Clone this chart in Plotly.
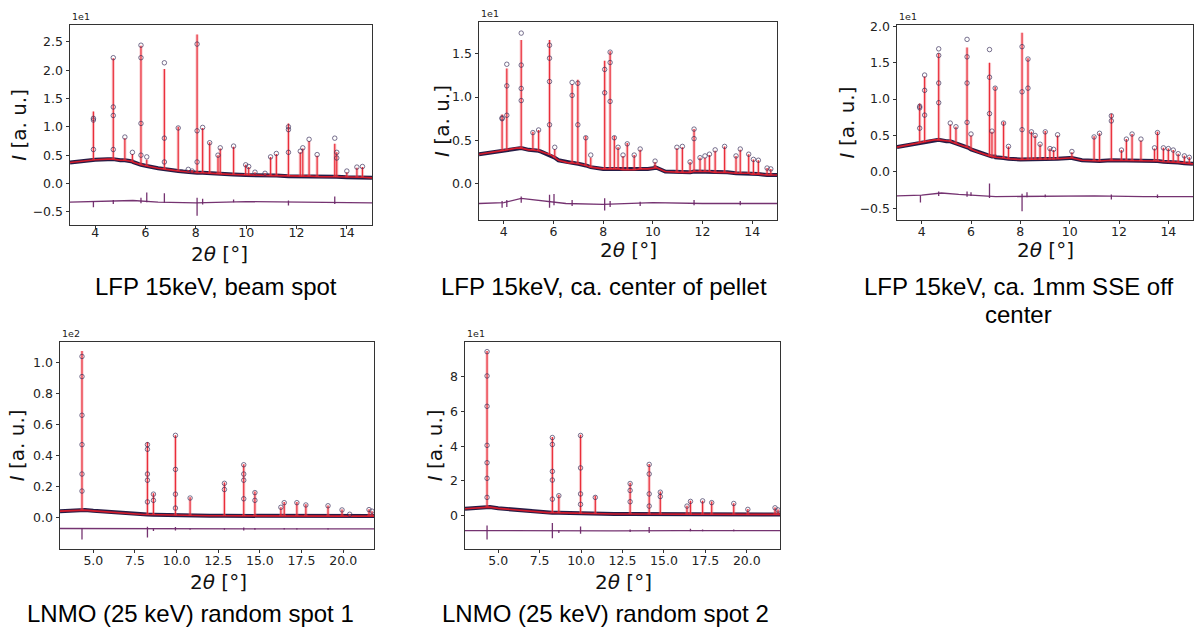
import plotly.graph_objects as go

W, H = 1198, 628

# ================= DATA =================
# Panel 1: LFP 15keV, beam spot  (intensity in units of 1e1)
p1_bg_x = [3.0, 3.5, 4.0, 4.5, 5.0, 5.5, 6.0, 6.5, 7.0, 7.5, 8.0, 9.0, 10.0, 11.0, 12.0, 13.0, 14.0, 15.0]
p1_bg_y = [0.37, 0.40, 0.42, 0.43, 0.41, 0.38, 0.32, 0.27, 0.24, 0.21, 0.19, 0.17, 0.15, 0.14, 0.13, 0.12, 0.11, 0.10]
p1_pk_x = [3.93, 4.72, 5.18, 5.48, 5.82, 6.05, 6.75, 7.30, 7.70, 7.85, 8.05, 8.27, 8.55, 8.88, 8.97, 9.50,
           9.98, 10.10, 10.35, 10.75, 10.97, 11.20, 11.68, 12.15, 12.25, 12.50, 12.82, 13.52, 13.60, 14.00, 14.40, 14.62]
p1_pk_base = [0.42, 0.43, 0.41, 0.39, 0.33, 0.31, 0.25, 0.22, 0.20, 0.20, 0.19, 0.19, 0.18, 0.17, 0.17, 0.16,
              0.15, 0.15, 0.15, 0.14, 0.14, 0.14, 0.13, 0.13, 0.13, 0.13, 0.12, 0.12, 0.12, 0.11, 0.11, 0.11]
p1_pk_top = [1.27, 2.21, 0.80, 0.52, 2.43, 0.42, 2.02, 1.00, 0.24, 0.24, 2.63, 0.98, 0.73, 0.50, 0.62, 0.65,
             0.33, 0.29, 0.20, 0.18, 0.47, 0.52, 1.06, 0.55, 0.62, 0.75, 0.49, 0.70, 0.55, 0.20, 0.28, 0.29]
p1_pk_obs = [1.15, 2.22, 0.82, 0.55, 2.44, 0.47, 2.13, 0.98, 0.25, 0.22, 2.46, 0.99, 0.72, 0.50, 0.63, 0.66,
             0.33, 0.30, 0.20, 0.18, 0.47, 0.53, 1.00, 0.57, 0.63, 0.78, 0.51, 0.80, 0.55, 0.22, 0.29, 0.30]
p1_side_x = [3.93, 3.93, 4.72, 4.72, 4.72, 5.82, 5.82, 5.82, 6.75, 6.75, 8.05, 8.05, 11.68, 11.68, 13.60]
p1_side_y = [1.12, 0.60, 1.35, 1.20, 0.60, 2.22, 1.06, 0.50, 0.80, 0.38, 0.93, 0.38, 0.95, 0.55, 0.45]
p1_diff_x = [3.0, 4.5, 5.5, 6.5, 8.0, 10.0, 12.0, 15.0]
p1_diff_y = [-0.33, -0.31, -0.30, -0.33, -0.34, -0.32, -0.33, -0.34]
p1_sp_x = [3.93, 4.72, 5.82, 6.05, 6.75, 8.05, 8.27, 9.50, 11.68, 13.52]
p1_sp_lo = [-0.42, -0.36, -0.35, -0.33, -0.34, -0.57, -0.37, -0.33, -0.39, -0.36]
p1_sp_hi = [-0.31, -0.29, -0.25, -0.16, -0.17, -0.25, -0.27, -0.28, -0.30, -0.23]

# Panel 2: LFP 15keV, ca. center of pellet  (units of 1e1)
p2_bg_x = [3.0, 3.5, 4.0, 4.5, 5.0, 5.5, 5.9, 6.2, 6.6, 7.0, 7.5, 8.0, 9.0, 9.8, 10.1, 10.5, 11.0, 12.0, 13.0, 14.0, 15.0]
p2_bg_y = [0.34, 0.36, 0.38, 0.41, 0.39, 0.37, 0.33, 0.27, 0.24, 0.23, 0.19, 0.17, 0.16, 0.17, 0.19, 0.14, 0.13, 0.14, 0.13, 0.11, 0.10]
p2_pk_x = [3.93, 4.12, 4.70, 5.17, 5.40, 5.84, 6.05, 6.75, 6.98, 7.30, 7.50, 8.06, 8.28, 8.45, 8.60, 8.80, 8.97, 9.25,
           9.49, 10.09, 10.97, 11.19, 11.50, 11.66, 11.90, 12.10, 12.28, 12.51, 12.89, 13.35, 13.52, 13.86, 14.05,
           14.25, 14.60, 14.75]
p2_pk_base = [0.38, 0.39, 0.41, 0.39, 0.38, 0.33, 0.30, 0.24, 0.23, 0.21, 0.19, 0.17, 0.17, 0.17, 0.17, 0.16, 0.16, 0.16,
              0.17, 0.18, 0.13, 0.13, 0.13, 0.14, 0.14, 0.14, 0.14, 0.13, 0.13, 0.12, 0.12, 0.12, 0.11,
              0.11, 0.10, 0.10]
p2_pk_top = [0.80, 1.33, 1.66, 0.60, 0.62, 1.66, 0.40, 1.15, 1.20, 0.55, 0.30, 1.42, 1.53, 0.55, 0.42, 0.32, 0.47, 0.33,
             0.39, 0.25, 0.41, 0.42, 0.25, 0.63, 0.30, 0.30, 0.33, 0.38, 0.43, 0.32, 0.39, 0.34, 0.28,
             0.27, 0.18, 0.17]
p2_pk_obs = [0.76, 1.38, 1.74, 0.59, 0.62, 1.60, 0.42, 1.17, 1.16, 0.53, 0.33, 1.32, 1.52, 0.53, 0.42, 0.33, 0.46, 0.33,
             0.40, 0.26, 0.42, 0.43, 0.25, 0.63, 0.30, 0.32, 0.34, 0.39, 0.43, 0.32, 0.40, 0.34, 0.28,
             0.27, 0.18, 0.17]
p2_side_x = [3.93, 4.12, 4.12, 4.70, 4.70, 4.70, 5.84, 5.84, 5.84, 6.75, 6.98, 8.06, 8.28, 8.28, 11.66]
p2_side_y = [0.75, 1.13, 0.79, 1.37, 1.10, 0.96, 1.45, 1.18, 0.68, 1.02, 0.68, 1.05, 1.40, 0.95, 0.52]
p2_diff_x = [3.0, 4.0, 4.7, 5.5, 6.5, 8.0, 10.0, 12.0, 15.0]
p2_diff_y = [-0.23, -0.22, -0.17, -0.20, -0.23, -0.24, -0.22, -0.23, -0.23]
p2_sp_x = [3.93, 4.12, 4.70, 5.84, 6.02, 6.75, 8.06, 8.28, 9.49, 11.66, 13.52]
p2_sp_lo = [-0.28, -0.27, -0.22, -0.28, -0.25, -0.26, -0.31, -0.27, -0.26, -0.25, -0.25]
p2_sp_hi = [-0.20, -0.19, -0.15, -0.13, -0.12, -0.19, -0.17, -0.20, -0.21, -0.19, -0.20]

# Panel 3: LFP 15keV, ca. 1mm SSE off center  (units of 1e1)
p3_bg_x = [3.0, 3.5, 4.0, 4.5, 5.0, 5.5, 5.9, 6.3, 6.6, 7.0, 7.5, 8.0, 9.0, 10.0, 10.5, 11.0, 12.0, 13.0, 14.0, 15.0]
p3_bg_y = [0.34, 0.37, 0.40, 0.44, 0.42, 0.38, 0.33, 0.27, 0.23, 0.20, 0.18, 0.17, 0.17, 0.19, 0.16, 0.15, 0.16, 0.15, 0.14, 0.11]
p3_pk_x = [3.92, 4.12, 4.69, 5.16, 5.39, 5.84, 6.00, 6.75, 6.85, 6.98, 7.32, 7.52, 8.07, 8.31, 8.45, 8.60, 8.80, 9.01,
           9.20, 9.35, 9.51, 10.09, 10.99, 11.21, 11.69, 12.10, 12.30, 12.53, 12.89, 13.44, 13.56, 13.80, 14.00,
           14.20, 14.40, 14.65, 14.85]
p3_pk_base = [0.40, 0.41, 0.44, 0.42, 0.39, 0.34, 0.31, 0.22, 0.21, 0.21, 0.19, 0.18, 0.17, 0.17, 0.17, 0.17, 0.17, 0.17,
              0.17, 0.17, 0.18, 0.19, 0.15, 0.15, 0.16, 0.16, 0.16, 0.15, 0.15, 0.15, 0.15, 0.14, 0.14,
              0.14, 0.13, 0.12, 0.12]
p3_pk_top = [0.94, 1.31, 1.63, 0.65, 0.62, 1.71, 0.50, 1.50, 0.55, 1.17, 0.69, 0.35, 1.91, 1.56, 0.55, 0.50, 0.38, 0.56,
             0.32, 0.30, 0.50, 0.27, 0.49, 0.53, 0.80, 0.30, 0.45, 0.52, 0.43, 0.32, 0.55, 0.33, 0.32,
             0.30, 0.25, 0.22, 0.20]
p3_pk_obs = [0.90, 1.33, 1.69, 0.67, 0.62, 1.82, 0.52, 1.68, 0.56, 1.15, 0.67, 0.35, 1.72, 1.55, 0.55, 0.50, 0.38, 0.55,
             0.32, 0.31, 0.51, 0.28, 0.48, 0.53, 0.77, 0.30, 0.45, 0.52, 0.45, 0.33, 0.54, 0.33, 0.32,
             0.30, 0.25, 0.22, 0.20]
p3_side_x = [3.92, 3.92, 4.12, 4.12, 4.69, 4.69, 4.69, 5.84, 5.84, 5.84, 6.75, 6.75, 8.07, 8.07, 8.31, 11.69]
p3_side_y = [0.88, 0.60, 1.12, 0.78, 1.60, 1.22, 0.95, 1.58, 1.22, 0.68, 1.30, 0.80, 1.10, 0.58, 1.15, 0.70]
p3_diff_x = [3.0, 4.0, 4.8, 5.5, 7.0, 9.0, 11.0, 13.0, 15.0]
p3_diff_y = [-0.33, -0.32, -0.29, -0.31, -0.34, -0.33, -0.33, -0.34, -0.34]
p3_sp_x = [3.95, 4.69, 5.84, 6.00, 6.75, 8.07, 8.27, 9.01, 11.69, 13.56]
p3_sp_lo = [-0.42, -0.33, -0.34, -0.33, -0.36, -0.54, -0.35, -0.35, -0.38, -0.36]
p3_sp_hi = [-0.32, -0.27, -0.27, -0.28, -0.16, -0.30, -0.28, -0.31, -0.31, -0.31]

# Panel 4: LNMO (25 keV) random spot 1  (units of 1e2)
p4_bg_x = [3.0, 4.0, 4.5, 5.0, 6.0, 7.0, 8.0, 10.0, 12.0, 15.0, 18.0, 21.85]
p4_bg_y = [0.040, 0.045, 0.047, 0.042, 0.033, 0.024, 0.018, 0.012, 0.010, 0.009, 0.008, 0.008]
p4_pk_x = [4.32, 8.25, 8.61, 9.93, 10.81, 12.87, 14.03, 14.70, 16.26, 16.46, 17.22, 17.76, 19.09, 19.93, 20.39, 21.55, 21.73]
p4_pk_base = [0.047, 0.018, 0.017, 0.013, 0.012, 0.010, 0.009, 0.009, 0.009, 0.009, 0.008, 0.008, 0.008, 0.008, 0.008, 0.008, 0.008]
p4_pk_top = [1.075, 0.487, 0.156, 0.530, 0.130, 0.226, 0.344, 0.167, 0.066, 0.100, 0.100, 0.085, 0.077, 0.050, 0.020, 0.053, 0.040]
p4_pk_obs = [1.040, 0.470, 0.150, 0.530, 0.125, 0.220, 0.340, 0.160, 0.065, 0.095, 0.095, 0.080, 0.075, 0.048, 0.020, 0.050, 0.040]
p4_side_x = [4.32, 4.32, 4.32, 4.32, 4.32, 8.25, 8.25, 8.25, 8.25, 8.61, 9.93, 9.93, 9.93, 12.87, 14.03, 14.03, 14.03, 14.70]
p4_side_y = [0.910, 0.660, 0.470, 0.280, 0.170, 0.440, 0.280, 0.240, 0.100, 0.110, 0.310, 0.150, 0.060, 0.180, 0.280, 0.240, 0.120, 0.110]
p4_diff_x = [3.0, 5.0, 8.0, 12.0, 16.0, 21.85]
p4_diff_y = [-0.072, -0.073, -0.075, -0.075, -0.074, -0.075]
p4_sp_x = [4.32, 8.25, 8.61, 9.93, 10.81, 12.87, 14.03, 14.70, 16.46, 17.22, 19.09]
p4_sp_lo = [-0.143, -0.130, -0.088, -0.085, -0.080, -0.080, -0.085, -0.080, -0.078, -0.078, -0.078]
p4_sp_hi = [-0.068, -0.060, -0.072, -0.062, -0.072, -0.070, -0.066, -0.068, -0.068, -0.070, -0.070]

# Panel 5: LNMO (25 keV) random spot 2  (units of 1e1)
p5_bg_x = [3.0, 4.0, 4.5, 5.0, 6.0, 7.0, 8.0, 10.0, 12.0, 15.0, 18.0, 22.0]
p5_bg_y = [0.40, 0.46, 0.49, 0.42, 0.33, 0.24, 0.17, 0.11, 0.09, 0.07, 0.07, 0.07]
p5_pk_x = [4.33, 8.27, 8.66, 9.97, 10.86, 12.96, 14.11, 14.78, 16.39, 16.60, 17.33, 17.88, 19.21, 20.06, 21.70, 21.88]
p5_pk_base = [0.49, 0.17, 0.16, 0.12, 0.11, 0.09, 0.08, 0.08, 0.07, 0.07, 0.07, 0.07, 0.07, 0.07, 0.07, 0.07]
p5_pk_top = [9.49, 4.53, 1.20, 4.66, 1.14, 1.90, 2.97, 1.39, 0.57, 0.86, 0.86, 0.82, 0.72, 0.38, 0.47, 0.35]
p5_pk_obs = [9.45, 4.50, 1.15, 4.62, 1.05, 1.85, 2.95, 1.35, 0.55, 0.82, 0.85, 0.75, 0.70, 0.36, 0.45, 0.33]
p5_side_x = [4.33, 4.33, 4.33, 4.33, 4.33, 4.33, 8.27, 8.27, 8.27, 8.27, 9.97, 9.97, 9.97, 12.96, 12.96, 14.11, 14.11, 14.11, 14.78]
p5_side_y = [8.05, 6.30, 4.05, 3.05, 2.15, 1.05, 4.10, 2.55, 2.05, 0.95, 2.75, 1.25, 0.65, 1.45, 0.80, 2.40, 1.25, 0.55, 1.10]
p5_diff_x = [3.0, 5.0, 8.0, 12.0, 16.0, 22.0]
p5_diff_y = [-0.86, -0.87, -0.88, -0.88, -0.87, -0.86]
p5_sp_x = [4.33, 8.27, 8.66, 9.97, 12.96, 14.11, 16.60, 17.33, 19.21]
p5_sp_lo = [-1.37, -1.30, -1.00, -1.05, -0.95, -1.00, -0.90, -0.90, -0.90]
p5_sp_hi = [-0.57, -0.42, -0.85, -0.62, -0.80, -0.65, -0.75, -0.80, -0.80]

captions = [["LFP 15keV, beam spot"], ["LFP 15keV, ca. center of pellet"], ["LFP 15keV, ca. 1mm SSE off", "center"],
            ["LNMO (25 keV) random spot 1"], ["LNMO (25 keV) random spot 2"]]
offsets = ["1e1", "1e1", "1e1", "1e2", "1e1"]
x_ticks_lfp = [4, 6, 8, 10, 12, 14]
x_ticks_lnmo = [5.0, 7.5, 10.0, 12.5, 15.0, 17.5, 20.0]
y_ticks = [[-0.5, 0.0, 0.5, 1.0, 1.5, 2.0, 2.5], [0.0, 0.5, 1.0, 1.5], [-0.5, 0.0, 0.5, 1.0, 1.5, 2.0],
           [0.0, 0.2, 0.4, 0.6, 0.8, 1.0], [0, 2, 4, 6, 8]]

# ================= LAYOUT / STYLE =================
panels = [
    dict(bgx=p1_bg_x, bgy=p1_bg_y, px=p1_pk_x, pb=p1_pk_base, pt=p1_pk_top, po=p1_pk_obs, sx=p1_side_x, sy=p1_side_y,
         dx=p1_diff_x, dy=p1_diff_y, spx=p1_sp_x, splo=p1_sp_lo, sphi=p1_sp_hi,
         box=(70, 372, 19, 221), xr=[3, 15], yr=[-0.73, 2.80], xt=x_ticks_lfp, xf="d", yf=".1f",
         cap=(216, [283]), xtitle=(220, 250), ytitle=19, so=-7),
    dict(bgx=p2_bg_x, bgy=p2_bg_y, px=p2_pk_x, pb=p2_pk_base, pt=p2_pk_top, po=p2_pk_obs, sx=p2_side_x, sy=p2_side_y,
         dx=p2_diff_x, dy=p2_diff_y, spx=p2_sp_x, splo=p2_sp_lo, sphi=p2_sp_hi,
         box=(479, 777, 16, 216), xr=[3, 15], yr=[-0.42, 1.87], xt=x_ticks_lfp, xf="d", yf=".1f",
         cap=(604, [283]), xtitle=(628, 246), ytitle=442, so=-3),
    dict(bgx=p3_bg_x, bgy=p3_bg_y, px=p3_pk_x, pb=p3_pk_base, pt=p3_pk_top, po=p3_pk_obs, sx=p3_side_x, sy=p3_side_y,
         dx=p3_diff_x, dy=p3_diff_y, spx=p3_sp_x, splo=p3_sp_lo, sphi=p3_sp_hi,
         box=(897, 1193, 19, 216), xr=[3, 15], yr=[-0.66, 2.02], xt=x_ticks_lfp, xf="d", yf=".1f",
         cap=(1018, [283, 311]), xtitle=(1045, 246), ytitle=847, so=-3),
    dict(bgx=p4_bg_x, bgy=p4_bg_y, px=p4_pk_x, pb=p4_pk_base, pt=p4_pk_top, po=p4_pk_obs, sx=p4_side_x, sy=p4_side_y,
         dx=p4_diff_x, dy=p4_diff_y, spx=p4_sp_x, splo=p4_sp_lo, sphi=p4_sp_hi,
         box=(60, 374, 339, 548), xr=[3, 21.85], yr=[-0.203, 1.135], xt=x_ticks_lnmo, xf=".1f", yf=".1f",
         cap=(190, [613]), xtitle=(218, 582), ytitle=17, so=-3),
    dict(bgx=p5_bg_x, bgy=p5_bg_y, px=p5_pk_x, pb=p5_pk_base, pt=p5_pk_top, po=p5_pk_obs, sx=p5_side_x, sy=p5_side_y,
         dx=p5_diff_x, dy=p5_diff_y, spx=p5_sp_x, splo=p5_sp_lo, sphi=p5_sp_hi,
         box=(465, 780, 339, 548), xr=[3, 22], yr=[-1.91, 10.02], xt=x_ticks_lnmo, xf=".1f", yf="d",
         cap=(605, [613]), xtitle=(623, 582), ytitle=435, so=-3),
]

OBS = "rgba(38,28,70,1)"
RED = "rgba(232,28,40,0.9)"
PINK = "rgba(240,110,120,0.35)"
DIFF = "rgba(110,40,105,0.95)"
TICKFONT = dict(family="DejaVu Sans", size=12.5, color="#222")
TITLEFONT = dict(family="DejaVu Sans", size=20, color="#111")

fig = go.Figure()
annotations = []
layout_axes = {}

for i, p in enumerate(panels):
    n = "" if i == 0 else str(i + 1)
    xa, ya = "x" + n, "y" + n
    # observed dense band (background + peak bases)
    band = sorted(list(zip(p["bgx"], p["bgy"])) + list(zip(p["px"], p["pb"])))
    fig.add_trace(go.Scatter(x=[b[0] for b in band], y=[b[1] for b in band], mode="lines",
                             line=dict(color=OBS, width=4), xaxis=xa, yaxis=ya, showlegend=False))
    # calculated pattern: background line
    fig.add_trace(go.Scatter(x=[b[0] for b in band], y=[b[1] for b in band], mode="lines",
                             line=dict(color=RED, width=1.6), xaxis=xa, yaxis=ya, showlegend=False))
    # calculated peaks (pink halo + red core)
    sx, sy = [], []
    for x, b, t in zip(p["px"], p["pb"], p["pt"]):
        sx += [x, x, None]
        sy += [b, t, None]
    fig.add_trace(go.Scatter(x=sx, y=sy, mode="lines", line=dict(color=PINK, width=3.2),
                             xaxis=xa, yaxis=ya, showlegend=False))
    fig.add_trace(go.Scatter(x=sx, y=sy, mode="lines", line=dict(color=RED, width=1.2),
                             xaxis=xa, yaxis=ya, showlegend=False))
    # observed circles
    fig.add_trace(go.Scatter(x=list(p["px"]) + list(p["sx"]), y=list(p["po"]) + list(p["sy"]), mode="markers",
                             marker=dict(symbol="circle-open", size=4.5, color="rgba(50,40,85,0.65)",
                                         line=dict(width=1)),
                             xaxis=xa, yaxis=ya, showlegend=False))
    # difference curve
    fig.add_trace(go.Scatter(x=p["dx"], y=p["dy"], mode="lines", line=dict(color=DIFF, width=1.3),
                             xaxis=xa, yaxis=ya, showlegend=False))
    dsx, dsy = [], []
    for x, lo, hi in zip(p["spx"], p["splo"], p["sphi"]):
        dsx += [x, x, None]
        dsy += [lo, hi, None]
    fig.add_trace(go.Scatter(x=dsx, y=dsy, mode="lines", line=dict(color=DIFF, width=1.3),
                             xaxis=xa, yaxis=ya, showlegend=False))

    x0, x1, y0, y1 = p["box"]
    common = dict(showline=True, linecolor="#333", linewidth=1, mirror=True, ticks="outside", ticklen=3.5,
                  tickwidth=1, tickcolor="#333", showgrid=False, zeroline=False, tickfont=TICKFONT)
    layout_axes["xaxis" + n] = dict(domain=[x0 / W, x1 / W], range=p["xr"], anchor=ya, tickmode="array",
                                    tickvals=p["xt"], tickformat=p["xf"], ticklabelstandoff=p["so"], **common)
    layout_axes["yaxis" + n] = dict(domain=[1 - y1 / H, 1 - y0 / H], range=p["yr"], anchor=xa, tickmode="array",
                                    tickvals=y_ticks[i], tickformat=p["yf"], **common)

    # offset text
    annotations.append(dict(text=offsets[i], x=x0 / W, y=1 - (y0 - 1) / H, xref="paper", yref="paper",
                            xanchor="left", yanchor="bottom", showarrow=False,
                            font=dict(family="DejaVu Sans", size=9.5, color="#222")))
    # axis titles
    annotations.append(dict(text="2<i>θ</i> [°]", x=p["xtitle"][0] / W, y=1 - p["xtitle"][1] / H,
                            xref="paper", yref="paper", xanchor="center", yanchor="middle", showarrow=False,
                            font=TITLEFONT))
    annotations.append(dict(text="<i>I</i> [a. u.]", x=p["ytitle"] / W, y=1 - (y0 + y1) / 2 / H,
                            xref="paper", yref="paper", xanchor="center", yanchor="middle", textangle=-90,
                            showarrow=False, font=TITLEFONT))
    # caption lines
    for line, cy in zip(captions[i], p["cap"][1]):
        annotations.append(dict(text=line, x=p["cap"][0] / W, y=1 - cy / H, xref="paper", yref="paper",
                                xanchor="center", yanchor="middle", showarrow=False,
                                font=dict(family="Liberation Sans", size=24, color="#000")))

fig.update_layout(width=W, height=H, margin=dict(l=0, r=0, t=0, b=0), paper_bgcolor="white",
                  plot_bgcolor="white", showlegend=False, annotations=annotations, **layout_axes)

fig.write_html("out.html")
